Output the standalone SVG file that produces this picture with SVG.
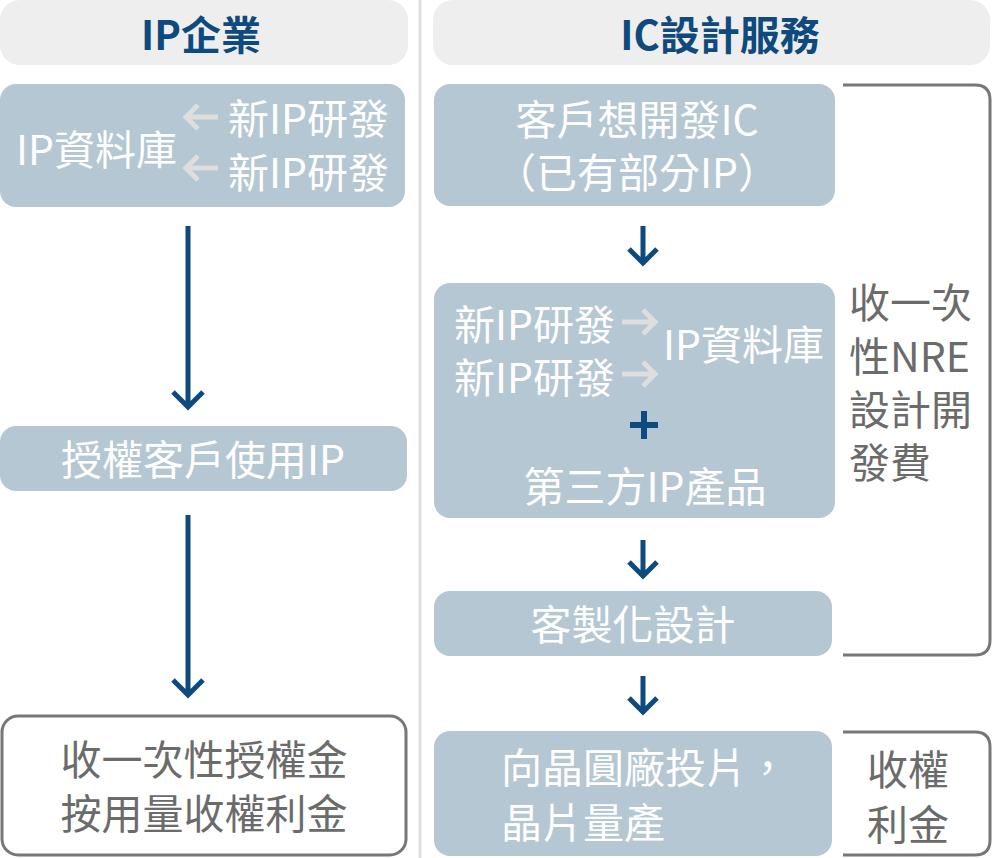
<svg xmlns="http://www.w3.org/2000/svg" width="993" height="858" viewBox="0 0 993 858">
<style>
.hdr{fill:#eeeeee}
.box{fill:#b5c7d3}
.t{font-family:"Noto Sans CJK TC","Noto Sans",sans-serif;font-size:41px}
.w{fill:#ffffff}
.g{fill:#6b6b6b}
.h{fill:#0f4a7e;font-weight:700;font-size:40px}
.arr{fill:none;stroke:#0f4a7e;stroke-width:5}
.la{fill:none;stroke:#dedede;stroke-width:5}
.br{fill:none;stroke:#777777;stroke-width:3}
</style>
<line x1="420" y1="0" x2="420" y2="858" stroke="#e0e0e0" stroke-width="3"/>
<g id="hdr-left"><rect class="hdr" x="0" y="0" width="408" height="65" rx="20"/><text class="t h" x="201" y="50" text-anchor="middle">IP企業</text></g>
<g id="hdr-right"><rect class="hdr" x="433" y="0" width="557" height="65" rx="20"/><text class="t h" x="720" y="50" text-anchor="middle">IC設計服務</text></g>
<g id="ip-lib-left">
<rect class="box" x="0" y="84" width="405" height="123" rx="16"/>
<text class="t w" x="16" y="165">IP資料庫</text>
<text class="t w" x="228" y="134">新IP研發</text>
<text class="t w" x="228" y="188">新IP研發</text>
<path class="la" d="M218,117 H186 M198,105 L186,117 L198,129"/>
<path class="la" d="M218,168 H186 M198,156 L186,168 L198,180"/>
</g>
<g id="license"><rect class="box" x="0" y="426" width="407" height="65" rx="16"/><text class="t w" x="203" y="475" text-anchor="middle">授權客戶使用IP</text></g>
<g id="fee-left"><rect x="2" y="716" width="404" height="139" rx="16" fill="#ffffff" stroke="#777777" stroke-width="3"/>
<text class="t g" x="204" y="775" text-anchor="middle">收一次性授權金</text>
<text class="t g" x="204" y="829" text-anchor="middle">按用量收權利金</text></g>
<g id="customer"><rect class="box" x="434" y="84" width="401" height="122" rx="16"/>
<text class="t w" x="637" y="135" text-anchor="middle">客戶想開發IC</text>
<text class="t w" x="637" y="188" text-anchor="middle">（已有部分IP）</text></g>
<g id="ip-lib-right"><rect class="box" x="434" y="283" width="401" height="235" rx="16"/>
<text class="t w" x="454" y="340">新IP研發</text>
<text class="t w" x="454" y="393">新IP研發</text>
<path class="la" d="M622,322 H655 M643,310 L655,322 L643,334"/>
<path class="la" d="M622,374 H655 M643,362 L655,374 L643,386"/>
<text class="t w" x="663" y="360">IP資料庫</text>
<path d="M644,411 V439 M630,425 H658" stroke="#0f4a7e" stroke-width="6" fill="none"/>
<text class="t w" x="645" y="502" text-anchor="middle">第三方IP產品</text></g>
<g id="custom"><rect class="box" x="434" y="591" width="398" height="65" rx="16"/><text class="t w" x="633" y="640" text-anchor="middle">客製化設計</text></g>
<g id="fab"><rect class="box" x="434" y="731" width="398" height="125" rx="16"/>
<text class="t w" x="501" y="783">向晶圓廠投片，</text>
<text class="t w" x="501" y="838">晶片量產</text></g>
<g id="nre"><path class="br" d="M843,85 H975 Q990,85 990,100 V640 Q990,655 975,655 H843"/>
<text class="t g" x="849" y="318">收一次</text>
<text class="t g" x="849" y="372">性NRE</text>
<text class="t g" x="849" y="425">設計開</text>
<text class="t g" x="849" y="478">發費</text></g>
<g id="royalty"><path class="br" d="M843,732 H975 Q990,732 990,747 V840 Q990,855 975,855 H843"/>
<text class="t g" x="908" y="785" text-anchor="middle">收權</text>
<text class="t g" x="908" y="840" text-anchor="middle">利金</text></g>
<g id="connectors">
<path class="arr" d="M188,226 V407 M173,392 L188,407 L203,392"/>
<path class="arr" d="M188,515 V695 M173,680 L188,695 L203,680"/>
<path class="arr" d="M643,226 V263 M629,249 L643,263 L657,249"/>
<path class="arr" d="M643,540 V576 M629,562 L643,576 L657,562"/>
<path class="arr" d="M643,676 V712 M629,698 L643,712 L657,698"/>
</g>
</svg>
